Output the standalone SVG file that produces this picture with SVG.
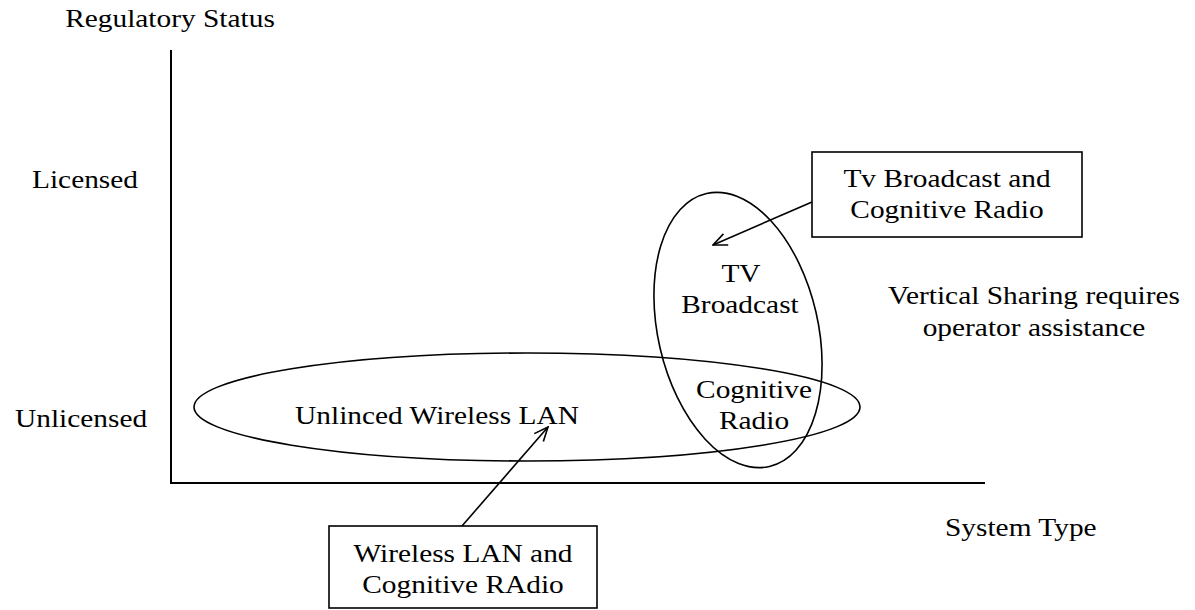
<svg xmlns="http://www.w3.org/2000/svg" width="1195" height="610" viewBox="0 0 1195 610">
  <style>
    /* Times-style lettering, set a little wide */
    text { font-family: "Liberation Serif", "Times New Roman", serif; font-size: 26px; fill: #000; }
    .mid { text-anchor: middle; }
    .axis { stroke: #000; stroke-width: 2; fill: none; }
    .outline { stroke: #000; stroke-width: 1.6; fill: none; }
    .box { stroke: #000; stroke-width: 1.6; fill: #fff; }
    .link { stroke: #000; stroke-width: 1.6; fill: none; marker-end: url(#openArrow); }
  </style>
  <defs>
    <marker id="openArrow" viewBox="0 0 16 16" refX="15" refY="8" markerWidth="16" markerHeight="16" markerUnits="userSpaceOnUse" orient="auto">
      <path d="M1,2 L15,8 L1,14" fill="none" stroke="#000" stroke-width="1.6"/>
    </marker>
  </defs>

  <!-- axes -->
  <g id="axes">
    <path class="axis" d="M171,50 V483 H985"/>
    <text class="mid" transform="translate(170 27) scale(1.13 1)">Regulatory Status</text>
    <text transform="translate(32 188) scale(1.13 1)">Licensed</text>
    <text transform="translate(15 427) scale(1.13 1)">Unlicensed</text>
    <text transform="translate(945 536) scale(1.13 1)">System Type</text>
  </g>

  <!-- unlicensed wireless LAN region -->
  <g id="wlan-region">
    <ellipse class="outline" cx="527" cy="407" rx="333" ry="54"/>
    <text class="mid" transform="translate(437 424) scale(1.13 1)">Unlinced Wireless LAN</text>
  </g>

  <!-- TV broadcast region, tilted -->
  <g id="tv-region">
    <ellipse class="outline" cx="738" cy="330" rx="80" ry="140" transform="rotate(-13 738 330)"/>
    <text class="mid" transform="translate(741 282) scale(1.13 1)">TV</text>
    <text class="mid" transform="translate(740 313) scale(1.13 1)">Broadcast</text>
  </g>

  <!-- overlap: cognitive radio -->
  <g id="cognitive-overlap">
    <text class="mid" transform="translate(754 398) scale(1.13 1)">Cognitive</text>
    <text class="mid" transform="translate(754 429) scale(1.13 1)">Radio</text>
  </g>

  <g id="sharing-note">
    <text class="mid" transform="translate(1034 304) scale(1.13 1)">Vertical Sharing requires</text>
    <text class="mid" transform="translate(1034 336) scale(1.13 1)">operator assistance</text>
  </g>

  <g id="tv-cr-box">
    <rect class="box" x="812" y="152" width="270" height="85"/>
    <text class="mid" transform="translate(947 187) scale(1.13 1)">Tv Broadcast and</text>
    <text class="mid" transform="translate(947 218) scale(1.13 1)">Cognitive Radio</text>
  </g>

  <g id="wlan-cr-box">
    <rect class="box" x="329" y="526" width="268" height="82"/>
    <text class="mid" transform="translate(463 562) scale(1.13 1)">Wireless LAN and</text>
    <text class="mid" transform="translate(463 593) scale(1.13 1)">Cognitive RAdio</text>
  </g>

  <!-- connectors -->
  <g id="connectors">
    <line class="link" x1="812" y1="202" x2="713" y2="245"/>
    <line class="link" x1="462" y1="526" x2="548" y2="427"/>
  </g>
</svg>
